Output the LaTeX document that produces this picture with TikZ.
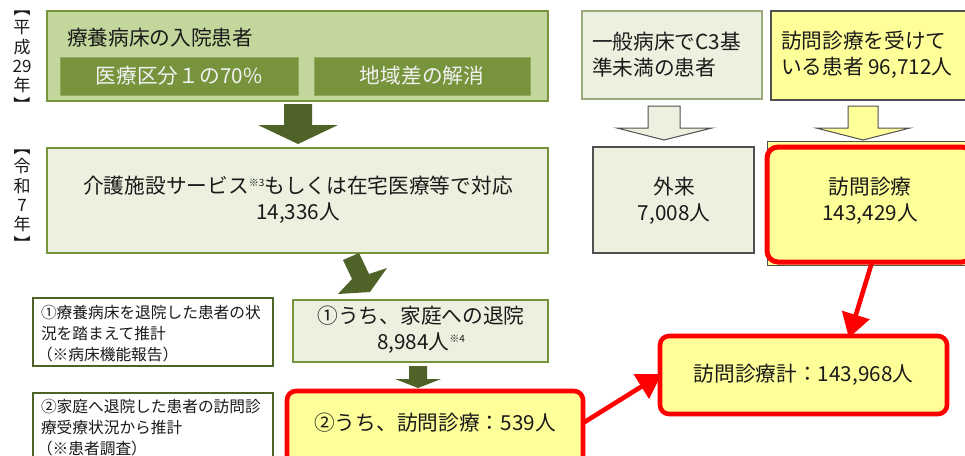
\documentclass[tikz,border=0pt]{standalone}
\usepackage{fontspec}
\setmainfont{Noto Sans CJK JP}
\usetikzlibrary{arrows.meta,calc}
\definecolor{gfill}{HTML}{C3D69B}
\definecolor{gdark}{HTML}{77933C}
\definecolor{glight}{HTML}{EBF1DE}
\definecolor{garrow}{HTML}{4F6228}
\definecolor{yel}{HTML}{FFFF99}
\definecolor{txt}{HTML}{1A1A1A}
\definecolor{gborder}{HTML}{9AAA7C}
\definecolor{dgray}{HTML}{505050}
\newcommand{\mysup}[1]{\raisebox{7pt}{\fontsize{10}{10}\selectfont #1}}
\begin{document}
\begin{tikzpicture}[x=1pt,y=-1pt,
  every node/.style={inner sep=0pt, outer sep=0pt, text=txt},
  big/.style={font=\fontsize{20.7}{26}\selectfont},
  small/.style={font=\fontsize{15.7}{21}\selectfont, align=left, anchor=west},
  vlab/.style={font=\fontsize{17}{19.3}\selectfont, align=center},
  boxnw/.style={anchor=north west},
  greenbox/.style={boxnw, fill=glight, draw=gdark, line width=1.3pt},
  infobox/.style={boxnw, fill=white, draw=garrow, line width=1.6pt},
  redbox/.style={boxnw, fill=yel, draw=red, line width=4.6pt, rounded corners=9pt},
  darrow/.style={fill=garrow},
  harrow/.style={draw=dgray, line width=1pt},
  ra/.style={draw=red, line width=4.6pt, -{Triangle[length=24pt,width=28pt]}, shorten >=-2pt}
]
\useasboundingbox (0,0) rectangle (965,455);
\clip (0,0) rectangle (965,455);
\fill[white] (0,0) rectangle (965,455);

% year labels
\node[vlab] (y1) at (22,61) {︻\\平\\成\\29\\年\\︼};
\node[vlab] (y2) at (22,200) {︻\\令\\和\\7\\年\\︼};

% top green box
\node[boxnw, minimum width=501pt, minimum height=90pt, fill=gfill, draw=gdark, line width=1.5pt] (top) at (47,11) {};
\node[big, anchor=west] (toptitle) at (67,38) {療養病床の入院患者};
\node[boxnw, minimum width=238pt, minimum height=38pt, fill=gdark, draw=gdark!80!white, line width=0.6pt] (k1) at (60,57) {};
\node[big, text=white!95!black] (k1t) at (k1.center) {医療区分１の70\%};
\node[boxnw, minimum width=216pt, minimum height=38pt, fill=gdark, draw=gdark!80!white, line width=0.6pt] (k2) at (314,57) {};
\node[big, text=white!95!black] (k2t) at (k2.center) {地域差の解消};

% arrow 1
\fill[darrow] (284,104) -- (312,104) -- (312,125) -- (338,125) -- (298,144) -- (258,125) -- (284,125) -- cycle;

% box 2
\node[greenbox, minimum width=501pt, minimum height=105pt] (b2) at (47,148) {};
\node[big, align=center] (b2t) at (298,200) {介護施設サービス\mysup{※3}もしくは在宅医療等で対応\\14,336人};

% diagonal arrow
\fill[darrow] (343,260) -- (359,253) -- (369,274) -- (387,268) -- (370,292) -- (338,294) -- (352,279) -- cycle;

% info boxes
\node[infobox, minimum width=240pt, minimum height=68pt] (i1) at (33,298) {};
\node[small] (i1t) at (41,334) {①療養病床を退院した患者の状\\況を踏まえて推計\\\kern-4pt（※病床機能報告）};
\node[infobox, minimum width=240pt, minimum height=80pt] (i2) at (33,393) {};
\node[small] (i2t) at (41,428) {②家庭へ退院した患者の訪問診\\療受療状況から推計\\\kern-4pt（※患者調査）};

% box 3
\node[greenbox, minimum width=255pt, minimum height=62pt] (b3) at (293,300) {};
\node[big, align=center] (b3t) at (421,330) {①うち、家庭への退院\\8,984人\mysup{※4}};

% small arrow
\fill[darrow] (409,366) -- (427,366) -- (427,379) -- (441,379) -- (418,388) -- (395,379) -- (409,379) -- cycle;

% red box 2
\node[redbox, minimum width=296pt, minimum height=90pt] (r2) at (287,391) {};
\node[big] (r2t) at (435,423) {②うち、訪問診療：539人};

% right column
\node[greenbox, draw=gborder, minimum width=180pt, minimum height=88pt] (c3) at (582,11) {};
\node[big, align=left, anchor=west] (c3t) at (592,55) {一般病床でC3基\\準未満の患者};
\node[boxnw, fill=yel, draw=dgray, line width=1.2pt, minimum width=210pt, minimum height=89pt] (yb) at (771,11) {};
\node[big, align=left, anchor=west] (ybt) at (781,55) {訪問診療を受けて\\いる患者 96,712人};

% hollow arrows
\filldraw[harrow, fill=glight] (648,106) -- (680,106) -- (680,128) -- (712,128) -- (664,140) -- (617,128) -- (648,128) -- cycle;
\filldraw[harrow, fill=yel] (848,106) -- (878,106) -- (878,128) -- (910,128) -- (863,140) -- (816,128) -- (848,128) -- cycle;

% gairai
\node[greenbox, draw=dgray, line width=1.5pt, minimum width=161pt, minimum height=106pt] (ga) at (593,147) {};
\node[big, align=center] (gat) at (674,201) {外来\\7,008人};

% houmon
\node[boxnw, fill=yel, draw=dgray, line width=1pt, minimum width=220pt, minimum height=124pt] (hb) at (767,141) {};
\node[redbox, rounded corners=11pt, line width=5pt, minimum width=206pt, minimum height=115pt] (hv) at (767,147) {};
\node[big, align=center] (hvt) at (870,201) {訪問診療\\143,429人};

% total
\node[redbox, minimum width=287pt, minimum height=78pt] (tot) at (660,336) {};
\node[big] (tott) at (tot.center) {訪問診療計：143,968人};

% red arrows
\draw[ra] ([xshift=2pt]hv.south) -- ($(tot.north west)!0.66!(tot.north east)$);
\draw[ra] ([yshift=-32pt]r2.north east) -- (tot.west);
\end{tikzpicture}
\end{document}
